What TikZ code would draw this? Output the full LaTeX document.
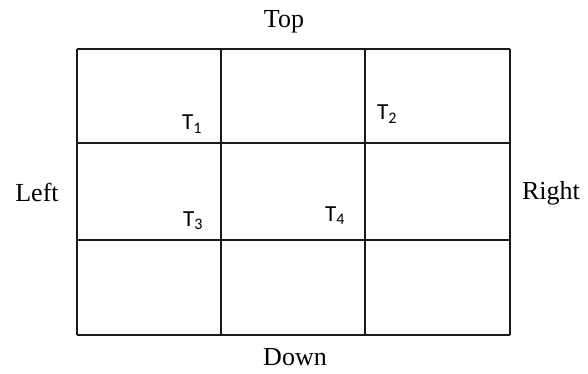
\documentclass[tikz,border=0pt]{standalone}
\usepackage{fontspec}
\setmainfont{Liberation Serif}
\newfontfamily\calibrifont{Carlito}
\usepackage{tikz}
\usetikzlibrary{positioning}

\tikzset{
  side/.style={font=\fontsize{26}{28}\selectfont, inner sep=0pt},
  tlab/.style={font=\calibrifont\fontsize{23}{25}\selectfont, inner sep=0pt, anchor=base west},
  gridline/.style={line width=2pt, black!90}
}

\begin{document}
\begin{tikzpicture}[x=1pt,y=-1pt]
  \useasboundingbox (0,0) rectangle (588,374);
  % the 3x3 board
  \foreach \x in {77,221,365,510}
    \draw[gridline] (\x,49) -- (\x,335);
  \foreach \y in {49,143,240,335}
    \draw[gridline] (77,\y) -- (510,\y);
  % sides
  \node[side] (top)   at (284,22)  {Top};
  \node[side] (down)  at (295,357) {Down};
  \node[side] (left)  at (37,192)  {Left};
  \node[side] (right) at (551,193) {Right};
  % marks in the cells
  \foreach \n/\px/\py in {1/182/130, 2/377/120, 3/183/226, 4/325/221}
    \node[tlab] (t\n) at (\px,\py) {T\textsubscript{\n}};
\end{tikzpicture}
\end{document}
